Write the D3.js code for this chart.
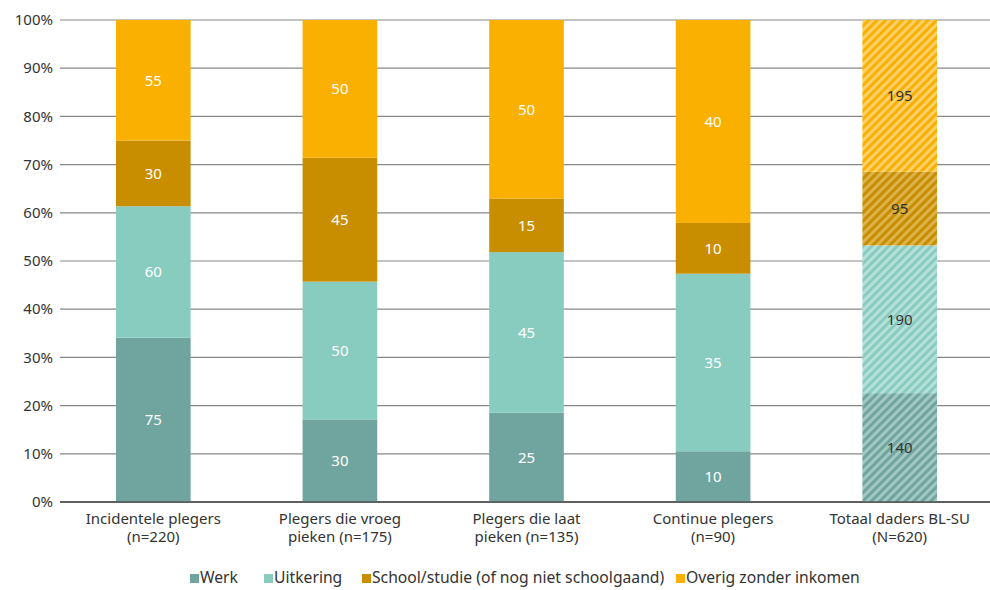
<!DOCTYPE html>
<html><head><meta charset="utf-8">
<script src="https://cdn.jsdelivr.net/npm/d3@7"></script>
<style>body{margin:0;background:#fff}svg{font-family:"Noto Sans","Open Sans",sans-serif}</style>
</head><body><svg id="c" width="990" height="590"></svg>
<script>
const categories = [["Incidentele plegers","(n=220)"],["Plegers die vroeg","pieken (n=175)"],["Plegers die laat","pieken (n=135)"],["Continue plegers","(n=90)"],["Totaal daders BL-SU","(N=620)"]];
const seriesNames = ["Werk","Uitkering","School/studie (of nog niet schoolgaand)","Overig zonder inkomen"];
const werk = [75,30,25,10,140];
const uitkering = [60,50,45,35,190];
const school = [30,45,15,10,95];
const overig = [55,50,50,40,195];
const yTicks = [0,10,20,30,40,50,60,70,80,90,100];
const colors = ["#6fa59e","#88ccc0","#c98e00","#f9b000"];
const lightColors = ["#a3c8c3","#b6e1da","#ddb34d","#fcd06a"];

const svg = d3.select("#c");
const x = d3.scaleBand().domain(d3.range(categories.length)).range([60,993]).paddingInner(0.6).paddingOuter(0.3);
const y = d3.scaleLinear().domain([0,100]).range([502,20]);

const defs = svg.append("defs");
colors.forEach((c,i)=>{
  const p = defs.append("pattern").attr("id","h"+i).attr("patternUnits","userSpaceOnUse")
    .attr("width",6).attr("height",6).attr("patternTransform","rotate(45)");
  p.append("rect").attr("width",6).attr("height",6).attr("fill",c);
  p.append("rect").attr("width",3).attr("height",6).attr("fill",lightColors[i]);
});

// grid
svg.append("g").selectAll("line").data(yTicks).join("line")
  .attr("x1",60).attr("x2",993).attr("y1",d=>y(d)).attr("y2",d=>y(d))
  .attr("stroke",d=>d===0?"#555":"#888").attr("stroke-width",d=>d===0?1.5:1.2);
svg.append("g").selectAll("text").data(yTicks).join("text")
  .attr("x",53).attr("y",d=>y(d)).attr("dy","0.35em").attr("text-anchor","end")
  .attr("font-size",15).attr("fill","#333").text(d=>d+"%");

const series = [werk,uitkering,school,overig];
categories.forEach((cat,ci)=>{
  const total = d3.sum(series,s=>s[ci]);
  let cum = 0;
  series.forEach((s,si)=>{
    const v = s[ci];
    const y0 = cum/total*100, y1 = (cum+v)/total*100;
    cum += v;
    const hatched = ci===categories.length-1;
    svg.append("rect").attr("x",x(ci)).attr("width",x.bandwidth())
      .attr("y",y(y1)).attr("height",y(y0)-y(y1))
      .attr("fill",hatched?`url(#h${si})`:colors[si]);
    svg.append("text").attr("x",x(ci)+x.bandwidth()/2).attr("y",(y(y0)+y(y1))/2).attr("dy","0.35em")
      .attr("text-anchor","middle").attr("font-size",15).attr("fill",hatched?"#333":"#fff").text(v);
  });
  cat.forEach((line,li)=>svg.append("text").attr("text-anchor","middle").attr("font-size",15).attr("fill","#333")
    .attr("x",x(ci)+x.bandwidth()/2).attr("y",524+li*18).text(line));
});
// baseline on top
svg.append("line").attr("x1",60).attr("x2",993).attr("y1",y(0)).attr("y2",y(0)).attr("stroke","#555").attr("stroke-width",1.5);

// legend
const legX = [190,264,362,676];
seriesNames.forEach((n,i)=>{
  svg.append("rect").attr("x",legX[i]).attr("y",574).attr("width",9).attr("height",9).attr("fill",colors[i]);
  svg.append("text").attr("x",legX[i]+10).attr("y",578).attr("dy","0.35em").attr("font-size",15.7).attr("fill","#333").text(n);
});
</script></body></html>
